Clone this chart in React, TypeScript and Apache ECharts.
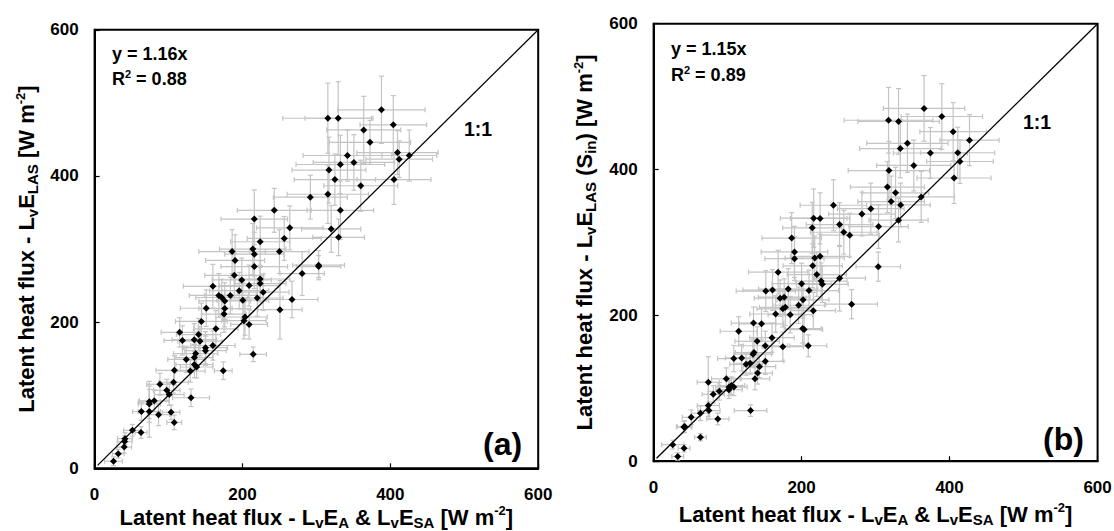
import React, { useEffect, useRef } from "react";
import * as echarts from "echarts";

// Panel (a): x = LvEA & LvESA, y = LvELAS
const aX = [388,315.5,329.5,404,364,372.5,342,409.7,412,425.6,350.7,332.4,317,325,405,360,315.5,291.8,243,332.4,216,264,320,256.5,330,224,214,186,250,216,190,216,303,303,280.7,189,199,224,224,209,160,228,195.6,168,172,183.6,176,220,200.5,267,151,176,175,250.7,203.4,202,144.4,209,164,115,140.6,118.8,134.8,142.5,160,150,150,136.7,214.5,124,135,135,138,108,129.5,174,106.8,88.4,97.6,101,130.4,80.7,74,74,63.3,74,86.5,103.4,107.7,51.2,62.8,41,40.6,40,32,25.6];
const aY = [490.5,479,479,470,463,446,428,432,423,428,418.5,415.7,408,395,395,386.6,375,371,353,353,341,329,327.5,314.5,316,310,300,296.5,296.5,293,284.5,276,278,276,266.5,264,257.7,259,252.7,250,249,241,243,236.5,233.7,236.5,229,233,230,231,219,218.5,211,217,207,202,201,196.8,190.8,186,183,175,176,174,168,165,161,157,156,149,151.5,142,138.6,134,133,133.5,117.8,115,106.7,101,96.5,92.4,91,88,77.6,77.6,73.4,76.7,62.8,52,49,40.6,36.5,29,20,9.7];
const aXErr = [59,61,45,45,50,55,60,55,45,37,55,60,50,55,50,50,55,50,50,45,45,45,40,50,35,40,45,45,40,40,40,45,35,30,30,40,40,40,35,40,40,35,40,40,35,35,35,35,35,35,35,35,30,30,30,30,35,25,30,25,30,25,30,30,30,30,28,30,18,25,25,25,22,25,20,12,20,18,18,20,25,20,15,15,12,15,15,12,10,12,8,10,10,10,8,12];
const aYErr = [46,48,50,40,46,30,35,30,25,35,38,40,45,35,34,35,40,30,30,40,40,30,32,30,25,35,35,30,30,30,35,30,20,15,30,30,30,25,25,28,30,25,25,30,25,25,25,25,25,25,25,25,25,40,25,25,25,20,25,20,22,20,22,20,20,22,20,20,10,18,18,18,15,20,15,12,15,15,15,15,12,15,28,20,12,35,15,10,10,8,8,8,8,8,6,6];

// Panel (b): x = LvEA & LvESA, y = LvELAS (Sin)
const bX = [365.5,389.5,317.5,331,404.8,426.9,343,333.4,374,411,414,351.6,318,406,316,327,361.6,321,333.8,243,293.5,281.5,216.3,225,331,251.3,304,214.4,257,265,186.6,190.4,190.4,225,217.7,215,303.6,168.3,220.6,226.4,228,200,251.3,160.7,151.6,210,182,171,176.5,202,196,174.6,178,215.8,267.6,165,184.7,135,145.8,201.4,203.4,115,160,140,151,174.6,209,135.7,134.3,108.4,119,151,125,130.5,143,140.5,137,98.3,73.9,105,102,108.4,101.7,88.7,80.6,73.9,74.8,131,63.3,50.8,86.8,40.8,42,63.3,25.9,41.2,32.6];
const bY = [483.8,472.7,467.6,466,451.9,440.3,436,428.7,422.7,423,411,405.6,398.6,388.4,376,368,362.5,356,351.4,351,346.3,338.9,333.3,333,330.6,324.5,321.8,320,314,310,306,287,277.8,281,278.7,268,266.7,259.3,256,247,242.6,243.5,251,234.7,233.3,234,236,223.6,225,221.3,213.9,209,211,206.5,215.3,201.9,201,189.4,188.4,182,180.5,178.2,169.4,164.4,158.3,157,158.3,149,146.8,140.7,141.7,137,132.9,134.3,129.6,120.8,113,113,108.3,103.7,101.9,101.9,98,95.8,91.7,76.4,69.4,69.4,65.7,60.2,57.9,46.8,47.5,32.9,22.7,17.6,6.5];
const bXErr = [55,55,60,55,45,40,55,55,50,50,45,50,55,50,50,45,45,45,40,45,45,45,45,40,40,45,40,40,45,40,40,45,40,40,40,40,30,40,40,35,35,40,35,40,40,40,40,35,35,35,35,35,35,30,35,35,30,30,30,25,25,25,30,30,30,28,25,25,25,22,22,25,22,22,22,20,20,20,15,18,18,18,18,15,15,15,15,22,12,12,15,10,10,8,15,8,8];
const bYErr = [45,45,45,45,40,35,40,40,35,35,30,35,40,35,35,35,35,35,30,35,35,30,40,35,30,30,30,35,30,30,35,35,30,30,30,30,20,30,30,25,25,28,45,28,28,28,28,25,25,25,25,25,25,25,20,25,25,22,22,20,20,20,20,20,20,20,15,18,18,18,18,18,15,15,15,15,15,15,35,12,12,12,12,12,12,15,12,8,10,10,8,8,8,5,6,5,5];

const oneToOne = [[4, 4], [600, 600]];

const FONT = "Arial, Liberation Sans, Helvetica, sans-serif";

function buildErr(xs: number[], ys: number[], exs: number[], eys: number[]) {
  return xs.map((x, i) => [x, ys[i], exs[i], eys[i]]);
}
function buildPts(xs: number[], ys: number[]) {
  return xs.map((x, i) => [x, ys[i]]);
}

const errColor = "#c4c4c4";
function renderErr(params: any, api: any) {
  const x = api.value(0), y = api.value(1), ex = api.value(2), ey = api.value(3);
  const l = api.coord([x - ex, y]);
  const r = api.coord([x + ex, y]);
  const t = api.coord([x, y + ey]);
  const b = api.coord([x, y - ey]);
  const c = 2.5;
  const st = { stroke: errColor, lineWidth: 1.2 };
  const ln = (x1: number, y1: number, x2: number, y2: number) => ({
    type: "line", shape: { x1, y1, x2, y2 }, style: st, silent: true,
  });
  return {
    type: "group",
    children: [
      ln(l[0], l[1], r[0], r[1]),
      ln(l[0], l[1] - c, l[0], l[1] + c),
      ln(r[0], r[1] - c, r[0], r[1] + c),
      ln(t[0], t[1], b[0], b[1]),
      ln(t[0] - c, t[1], t[0] + c, t[1]),
      ln(b[0] - c, b[1], b[0] + c, b[1]),
    ],
  };
}

const richName = {
  m: { fontSize: 22, fontWeight: "bold", fontFamily: FONT, color: "#000", verticalAlign: "middle", lineHeight: 26 },
  sub: { fontSize: 15, fontWeight: "bold", fontFamily: FONT, color: "#000", verticalAlign: "bottom", lineHeight: 12 },
  sup: { fontSize: 13, fontWeight: "bold", fontFamily: FONT, color: "#000", verticalAlign: "top", lineHeight: 16 },
};

function valueAxis(gridIndex: number, name: string, gap: number, labelMargin: number) {
  return {
    type: "value",
    gridIndex,
    min: 0,
    max: 600,
    interval: 200,
    name,
    nameLocation: "middle",
    nameGap: gap,
    nameMoveOverlap: false,
    nameTextStyle: { fontSize: 22, fontWeight: "bold", fontFamily: FONT, color: "#000", lineHeight: 26, rich: richName },
    axisLine: { show: true, lineStyle: { color: "#000", width: 2 } },
    axisTick: { show: true, inside: true, length: 5, lineStyle: { color: "#000", width: 1.2 } },
    axisLabel: {
      show: true,
      fontSize: 17, fontWeight: "bold", fontFamily: FONT, color: "#000", margin: labelMargin,
      formatter: (v: number) => `{t|${v}}`,
      rich: { t: { fontSize: 17, fontWeight: "bold", fontFamily: FONT, color: "#000", lineHeight: 18 } },
    },
    splitLine: { show: false },
  };
}

export default function App() {
  const ref = useRef<HTMLDivElement>(null);
  useEffect(() => {
    document.body.style.margin = "0";
    if (!ref.current) return;
    const chart = echarts.init(ref.current, null, { renderer: "svg" });
    const xName = "{m|Latent heat flux - L}{sub|v}{m|E}{sub|A}{m| & L}{sub|v}{m|E}{sub|SA}{m| [W m}{sup|-2}{m|]}";
    const yNameA = "{m|Latent heat flux - L}{sub|v}{m|E}{sub|LAS}{m| [W m}{sup|-2}{m|]}";
    const yNameB = "{m|Latent heat flux - L}{sub|v}{m|E}{sub|LAS}{m| (S}{sub|in}{m|) [W m}{sup|-2}{m|]}";

    const txt = (x: number, y: number, text: string, size: number, rich?: any) => ({
      type: "text",
      x,
      y,
      silent: true,
      style: {
        text,
        fill: "#000",
        font: `bold ${size}px ${FONT}`,
        fontSize: size,
        fontWeight: "bold",
        fontFamily: FONT,
        verticalAlign: "middle",
        align: "left",
        rich,
      },
    });
    const richR = {
      b: { fontSize: 18, fontWeight: "bold", fontFamily: FONT, fill: "#000", color: "#000", lineHeight: 22, verticalAlign: "middle" },
      sup: { fontSize: 11, fontWeight: "bold", fontFamily: FONT, fill: "#000", color: "#000", lineHeight: 16, verticalAlign: "top" },
    };

    chart.setOption({
      animation: false,
      backgroundColor: "#fff",
      textStyle: { fontFamily: FONT, fontWeight: "bold", fontSize: 17 },
      grid: [
        { left: 94.6, top: 29.8, width: 443.6, height: 438.5, show: true, borderColor: "#000", borderWidth: 2, backgroundColor: "transparent", containLabel: false, outerBoundsMode: "none" },
        { left: 653.6, top: 23.7, width: 444, height: 437.5, show: true, borderColor: "#000", borderWidth: 2, backgroundColor: "transparent", containLabel: false, outerBoundsMode: "none" },
      ],
      xAxis: [valueAxis(0, xName, 36, 17), valueAxis(1, xName, 40, 17)],
      yAxis: [valueAxis(0, yNameA, 55, 16), valueAxis(1, yNameB, 56, 16)],
      series: [
        { type: "custom", xAxisIndex: 0, yAxisIndex: 0, renderItem: renderErr, data: buildErr(aX, aY, aXErr, aYErr), z: 1 },
        { type: "custom", xAxisIndex: 1, yAxisIndex: 1, renderItem: renderErr, data: buildErr(bX, bY, bXErr, bYErr), z: 1 },
        { type: "line", xAxisIndex: 0, yAxisIndex: 0, data: oneToOne, symbol: "none", lineStyle: { color: "#000", width: 1.3 }, z: 2 },
        { type: "line", xAxisIndex: 1, yAxisIndex: 1, data: oneToOne, symbol: "none", lineStyle: { color: "#000", width: 1.3 }, z: 2 },
        { type: "scatter", xAxisIndex: 0, yAxisIndex: 0, data: buildPts(aX, aY), symbol: "diamond", symbolSize: 7, itemStyle: { color: "#000", opacity: 1 }, z: 3 },
        { type: "scatter", xAxisIndex: 1, yAxisIndex: 1, data: buildPts(bX, bY), symbol: "diamond", symbolSize: 7, itemStyle: { color: "#000", opacity: 1 }, z: 3 },
      ],
      graphic: [
        txt(112, 54, "y = 1.16x", 18),
        txt(112, 79, "{b|R}{sup|2}{b| = 0.88}", 18, richR),
        txt(464, 129, "1:1", 19.5),
        txt(483, 444, "(a)", 32),
        txt(671, 49, "y = 1.15x", 18),
        txt(671, 75, "{b|R}{sup|2}{b| = 0.89}", 18, richR),
        txt(1023, 122, "1:1", 19.5),
        txt(1043, 439, "(b)", 32),
      ],
    });
    return () => chart.dispose();
  }, []);
  return <div ref={ref} style={{ width: 1114, height: 531 }} />;
}
